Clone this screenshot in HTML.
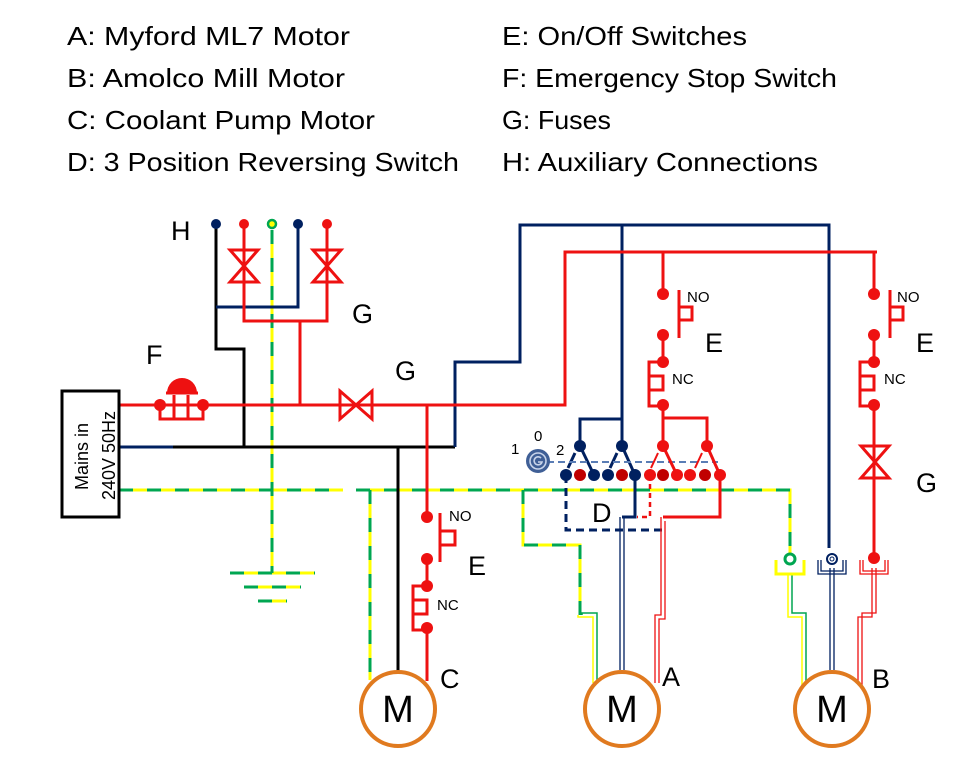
<!DOCTYPE html>
<html><head><meta charset="utf-8"><style>
html,body{margin:0;padding:0;background:#fff;}
svg{display:block;font-family:"Liberation Sans",sans-serif;}
</style></head><body>
<svg width="980" height="782" viewBox="0 0 980 782" xmlns="http://www.w3.org/2000/svg">
<!-- header text -->
<g font-size="26" fill="#000">
<text x="67" y="45" textLength="283" lengthAdjust="spacingAndGlyphs">A: Myford ML7 Motor</text>
<text x="67" y="87" textLength="278" lengthAdjust="spacingAndGlyphs">B: Amolco Mill Motor</text>
<text x="67" y="129" textLength="308" lengthAdjust="spacingAndGlyphs">C: Coolant Pump Motor</text>
<text x="67" y="171" textLength="392" lengthAdjust="spacingAndGlyphs">D: 3 Position Reversing Switch</text>
<text x="502" y="45" textLength="245" lengthAdjust="spacingAndGlyphs">E: On/Off Switches</text>
<text x="502" y="87" textLength="335" lengthAdjust="spacingAndGlyphs">F: Emergency Stop Switch</text>
<text x="502" y="129" textLength="109" lengthAdjust="spacingAndGlyphs">G: Fuses</text>
<text x="502" y="171" textLength="316" lengthAdjust="spacingAndGlyphs">H: Auxiliary Connections</text>
</g>

<!-- earth lines (dashed green/yellow) -->
<g stroke-width="3" fill="none">
<g stroke="#ffff00">
<path d="M272 230V573 M119 490H343 M356 490H790V555 M370 490V680 M523 490V545H580V615 M230 573H315 M244 587H301 M258 601H287"/>
</g>
<g stroke="#00a651" stroke-dasharray="14 14">
<path d="M272 230V573 M119 490H343 M356 490H790V555 M370 490V680 M523 490V545H580V615 M230 573H315 M244 587H301 M258 601H287"/>
</g>
<path d="M578 615V617H593V683 M788 574V617H802V685" stroke="#ffff00" stroke-width="1.5"/>
<path d="M582 615V613H597V683 M792 574V613H806V685" stroke="#00a651" stroke-width="1.5"/>
</g>

<!-- black lines -->
<g stroke="#000" stroke-width="3" fill="none">
<path d="M216 224V349H244V447 M173 447H455 M398 447V672"/>
</g>
<!-- dark blue lines -->
<g stroke="#002060" stroke-width="3" fill="none">
<path d="M119 447H173 M298 224V307H216 M455 447V362H520V225H829V548 M622 225V446 M580 446V419H622 M635 475V517H622"/>
<path d="M566 475V530H663" stroke-dasharray="8 5"/>
<path d="M620 517V670 M624 517V670 M830 568V670 M834 568V670" stroke-width="1.3"/>
<path d="M818 560V574H846V560 M821 560V571H843V560" stroke-width="1.3"/>
<path d="M580 446L594 475 M575 453L568 468 M622 446L635 475 M617 453L610 468"/>
</g>
<path d="M547 462H718" stroke="#5a7db5" stroke-width="2" stroke-dasharray="7 4" fill="none"/>

<!-- red lines -->
<g stroke="#ee1111" stroke-width="3" fill="none">
<path d="M119 405H565V252H877 M244 224V321H327V224 M300 321V405 M427 405V517 M427 559V586 M427 628V681"/>
<path d="M663 252V294 M663 335V362 M663 405V418H707V446 M663 405V446 M663 446L677 475 M707 446L720 475 M720 475V517H663"/>
<path d="M658 453L651 468 M702 453L695 468" stroke-width="2"/>
<path d="M650 475V517H637" stroke-dasharray="5 4" stroke-width="2.5"/>
<path d="M874 252V294 M874 335V362 M874 405V558"/>
<path d="M440 513V562 M440 531H455V545H440 M679 290V338 M679 307H692V320H679 M890 290V338 M890 307H903V320H890"/>
<path d="M427 586H413V630H427 M413 600H427V614H413 M663 362H649V406H663 M649 376H663V390H649 M874 362H860V406H874 M860 376H874V390H860"/>
<path d="M230 250H258L230 282H258Z M313 250H341L313 282H341Z M340 391V419L372 391V419Z M861 446H889L861 478H889Z" stroke-width="3"/>
<path d="M160 405V419H203V405 M174 395V419 M188 395V419" stroke-width="3"/>
</g>
<g stroke="#ee1111" stroke-width="1.3" fill="none">
<path d="M661 517V615H655V683 M665 521V619H659V683 M872 568V617H858V685 M876 568V613H862V685"/>
<path d="M860 560V574H888V560 M863 560V571H885V560"/>
</g>
<path d="M167 393A15 15 0 0 1 197 393Z" fill="#ee1111"/>
<path d="M166 393H198" stroke="#ee1111" stroke-width="3"/>

<g fill="#ee1111">
<circle cx="244" cy="224" r="5"/><circle cx="327" cy="224" r="5"/>
<circle cx="160" cy="405" r="6"/><circle cx="203" cy="405" r="6"/>
<circle cx="427" cy="517" r="6"/><circle cx="427" cy="559" r="6"/><circle cx="427" cy="586" r="6"/><circle cx="427" cy="628" r="6"/>
<circle cx="663" cy="294" r="6"/><circle cx="663" cy="335" r="6"/><circle cx="663" cy="362" r="6"/><circle cx="663" cy="405" r="6"/>
<circle cx="874" cy="294" r="6"/><circle cx="874" cy="335" r="6"/><circle cx="874" cy="362" r="6"/><circle cx="874" cy="405" r="6"/>
<circle cx="874" cy="558" r="6"/>
<circle cx="663" cy="446" r="6"/><circle cx="707" cy="446" r="6"/>
<circle cx="650" cy="475" r="6"/><circle cx="677" cy="475" r="6"/><circle cx="690" cy="475" r="6"/><circle cx="720" cy="475" r="6"/>
</g>
<g fill="#c00000">
<circle cx="580" cy="475" r="6"/><circle cx="622" cy="475" r="6"/><circle cx="663" cy="475" r="6"/><circle cx="705" cy="475" r="6"/>
</g>
<g fill="#002060">
<circle cx="216" cy="224" r="5"/><circle cx="298" cy="224" r="5"/>
<circle cx="580" cy="446" r="6"/><circle cx="622" cy="446" r="6"/>
<circle cx="566" cy="475" r="6"/><circle cx="594" cy="475" r="6"/><circle cx="608" cy="475" r="6"/><circle cx="635" cy="475" r="6"/>
</g>
<circle cx="832" cy="559" r="5" fill="#fff" stroke="#002060" stroke-width="2"/>
<circle cx="832" cy="559" r="2" fill="none" stroke="#002060" stroke-width="1"/>
<circle cx="272" cy="224" r="4" fill="#ffff00" stroke="#00a651" stroke-width="2.5"/>
<circle cx="790" cy="559" r="5" fill="#fff" stroke="#00a651" stroke-width="3"/>
<path d="M776 560V574H804V560" stroke="#ffff00" stroke-width="3" fill="none"/>

<!-- knob -->
<circle cx="538" cy="461" r="12" fill="#3f5f96"/>
<circle cx="538" cy="461" r="8" fill="none" stroke="#c8d4ea" stroke-width="1.6"/>
<path d="M541 458A4 4 0 1 0 542 462H538" fill="none" stroke="#c8d4ea" stroke-width="1.6"/>

<!-- mains box -->
<rect x="62" y="391" width="57" height="126" fill="#fff" stroke="#000" stroke-width="3"/>
<g font-size="18" fill="#000">
<text transform="translate(88 490) rotate(-90)">Mains in</text>
<text transform="translate(115 500) rotate(-90)">240V 50Hz</text>
</g>

<!-- motors -->
<g fill="#fff" stroke="#e07a1f" stroke-width="4">
<circle cx="398" cy="709" r="37"/><circle cx="622" cy="709" r="37"/><circle cx="832" cy="709" r="37"/>
</g>
<g font-size="38" fill="#000" text-anchor="middle">
<text x="398" y="722">M</text><text x="622" y="722">M</text><text x="832" y="722">M</text>
</g>

<g font-size="27" fill="#000">
<text x="171" y="240">H</text>
<text x="146" y="364">F</text>
<text x="352" y="323">G</text>
<text x="395" y="380">G</text>
<text x="705" y="352">E</text>
<text x="916" y="352">E</text>
<text x="468" y="575">E</text>
<text x="916" y="492">G</text>
<text x="440" y="688">C</text>
<text x="662" y="686">A</text>
<text x="872" y="688">B</text>
<text x="592" y="522">D</text>
</g>
<g font-size="15" fill="#000">
<text x="449" y="521">NO</text><text x="437" y="610">NC</text>
<text x="687" y="302">NO</text><text x="672" y="384">NC</text>
<text x="897" y="302">NO</text><text x="884" y="384">NC</text>
<text x="511" y="454">1</text><text x="534" y="441">0</text><text x="556" y="455">2</text>
</g>
</svg>
</body></html>
